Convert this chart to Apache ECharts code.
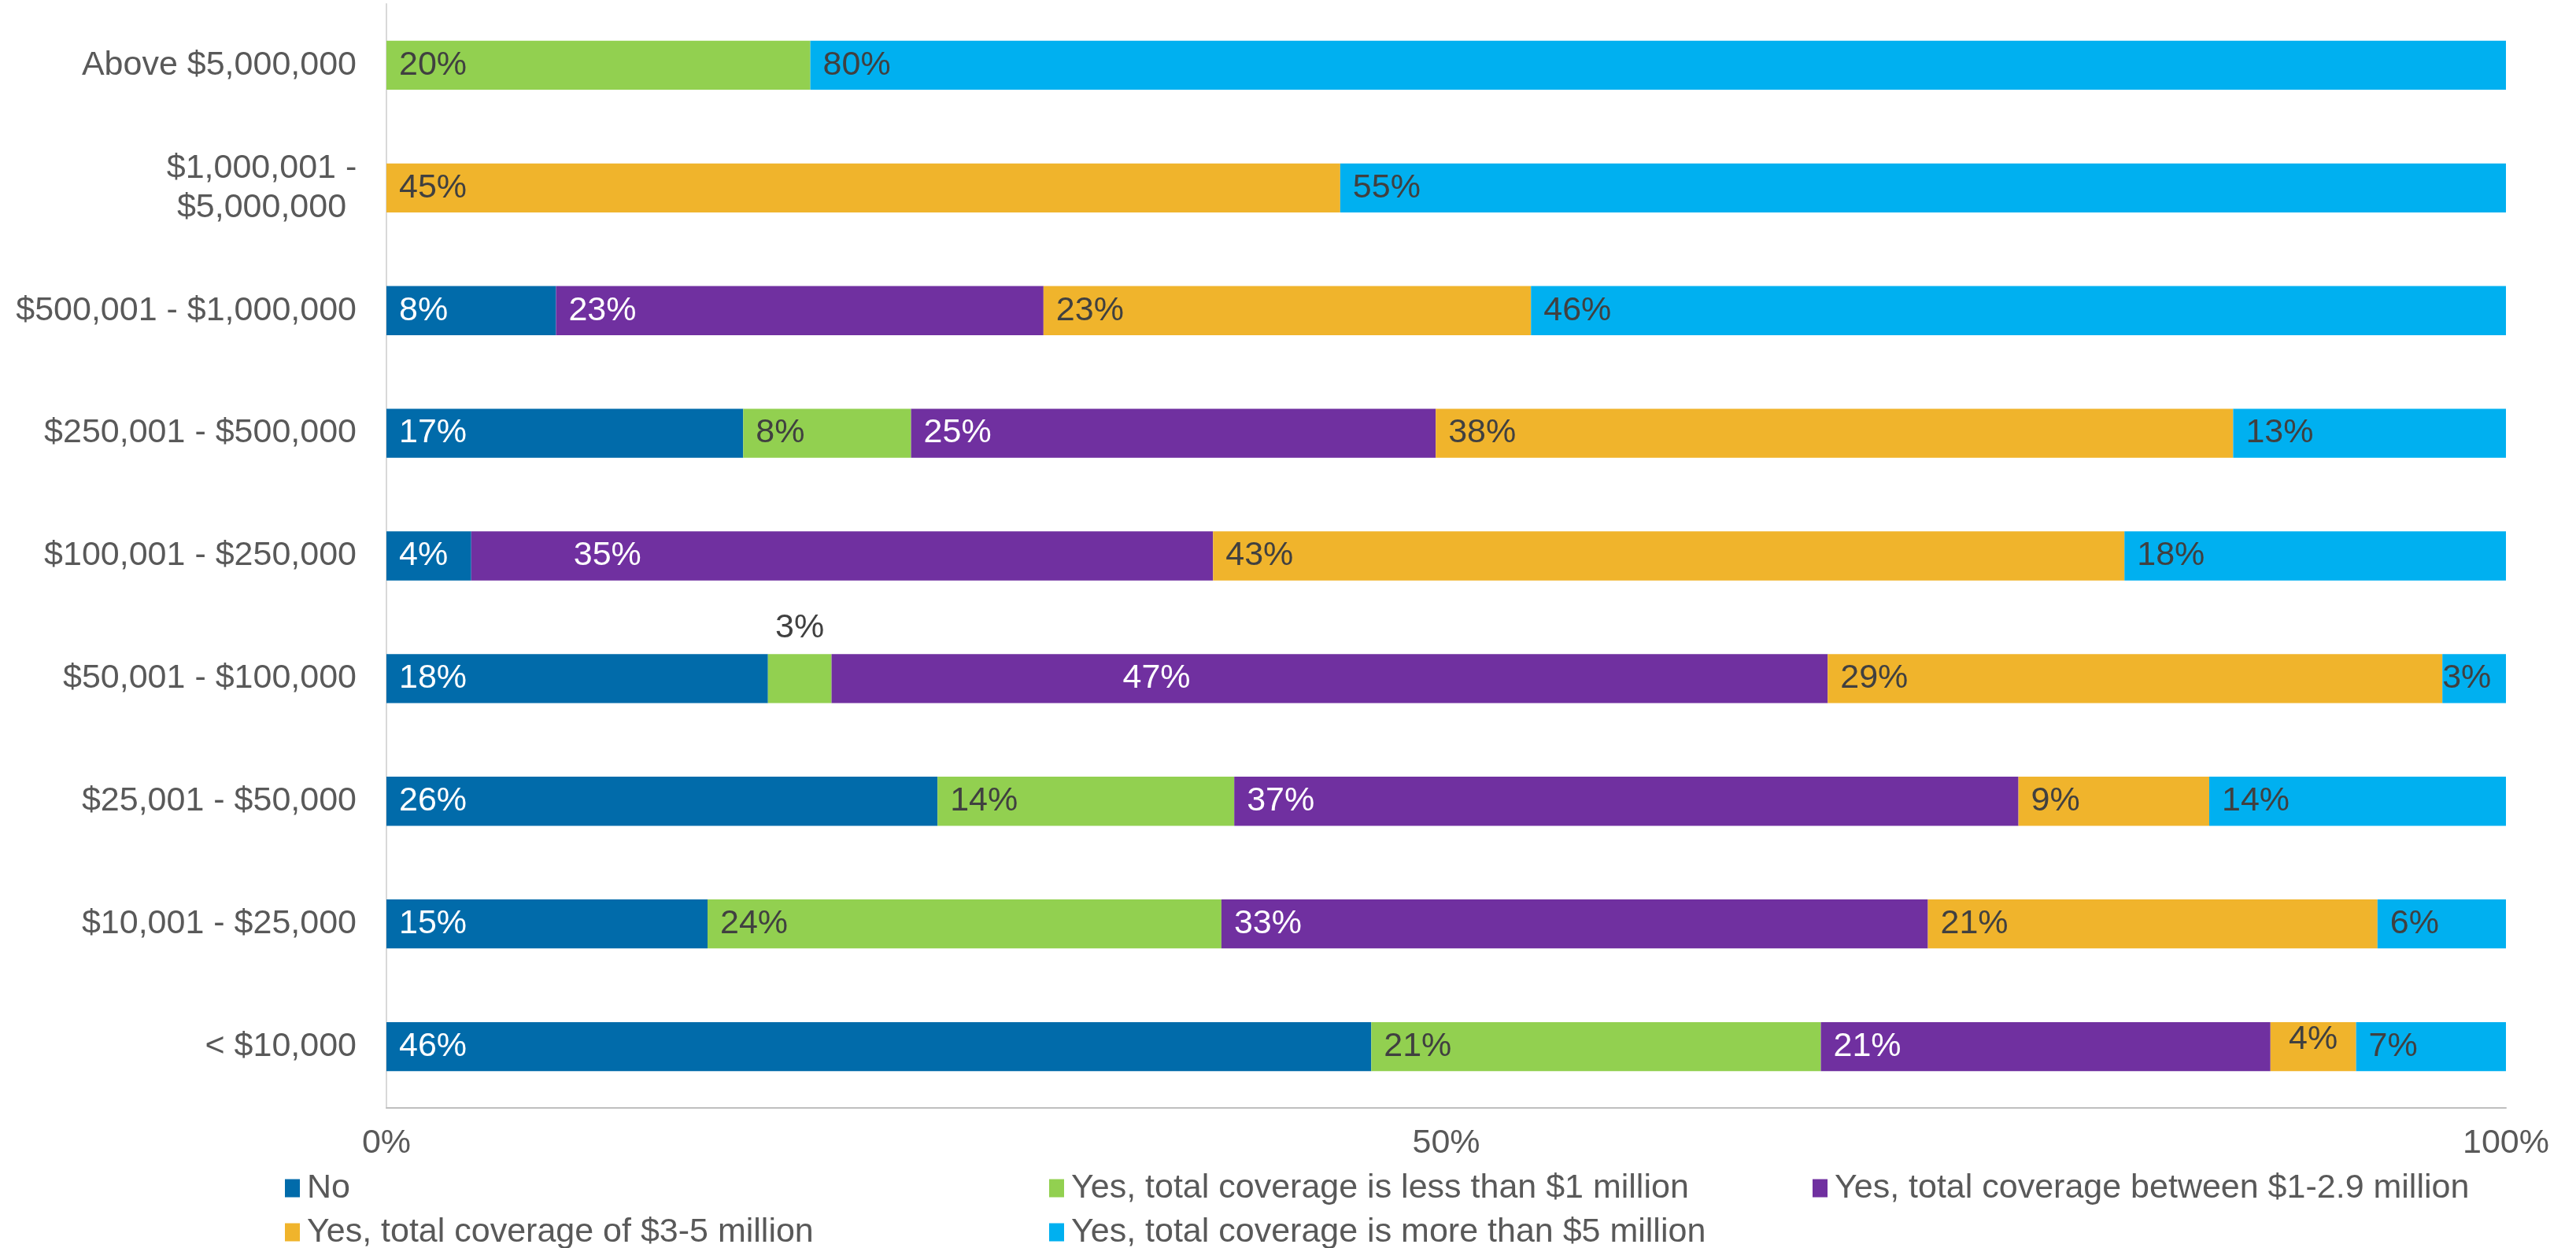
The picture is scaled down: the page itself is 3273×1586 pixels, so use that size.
<!DOCTYPE html>
<html>
<head>
<meta charset="utf-8">
<script src="https://cdn.jsdelivr.net/npm/echarts@6/dist/echarts.min.js"></script>
<style>
  html, body { margin: 0; padding: 0; background: #ffffff; }
  #chart { width: 3273px; height: 1586px; }
</style>
</head>
<body>
<div id="chart"></div>
<script>
// Revenue bands, listed top to bottom
const categories = [
  'Above $5,000,000',
  '$1,000,001 -\n$5,000,000',
  '$500,001 - $1,000,000',
  '$250,001 - $500,000',
  '$100,001 - $250,000',
  '$50,001 - $100,000',
  '$25,001 - $50,000',
  '$10,001 - $25,000',
  '< $10,000'
];

const seriesNames = [
  'No',
  'Yes, total coverage is less than $1 million',
  'Yes, total coverage between $1-2.9 million',
  'Yes, total coverage of $3-5 million',
  'Yes, total coverage is more than $5 million'
];

// Share of respondents (%) per band
const noCoverage  = [0, 0, 8, 17, 4, 18, 26, 15, 46];
const under1M     = [20, 0, 0, 8, 0, 3, 14, 24, 21];
const from1To29M  = [0, 0, 23, 25, 35, 47, 37, 33, 21];
const from3To5M   = [0, 45, 23, 38, 43, 29, 9, 21, 4];
const over5M      = [80, 55, 46, 13, 18, 3, 14, 6, 7];

const xTicks = [0, 50, 100];

const seriesValues = [noCoverage, under1M, from1To29M, from3To5M, over5M];
const colors = ['#016BAA', '#92D050', '#7030A0', '#F0B42C', '#00B0F0'];
const labelColors = ['#FFFFFF', '#404040', '#FFFFFF', '#404040', '#404040'];

// Individually placed labels: [series][category] -> label override
const labelOverrides = {
  '1-5': { position: 'top', distance: 12 },
  '2-4': { distance: 130 },
  '2-5': { distance: 370 },
  '3-8': { position: 'inside', offset: [0, -9] },
  '4-5': { distance: 0 }
};

// Each bar is scaled to a 100% total
const rowTotals = categories.map((_, i) =>
  seriesValues.reduce((s, arr) => s + arr[i], 0));

const FONT = '"Liberation Sans", Arial, sans-serif';
const FS = 43;

const series = seriesNames.map((name, si) => ({
  name,
  type: 'bar',
  stack: 'total',
  barWidth: '40%',
  itemStyle: { color: colors[si] },
  emphasis: { disabled: true },
  label: {
    show: true,
    position: 'insideLeft',
    distance: 16,
    fontSize: FS,
    fontFamily: FONT,
    color: labelColors[si],
    formatter: p => (p.data.raw ? p.data.raw + '%' : '')
  },
  data: seriesValues[si].map((v, ci) => {
    const item = { value: v * 100 / rowTotals[ci], raw: v };
    const ov = labelOverrides[si + '-' + ci];
    if (ov) item.label = ov;
    return item;
  })
}));

// Legend laid out in fixed columns
const legendSlots = [[357, 1480], [1328, 1480], [2298, 1480], [357, 1536], [1328, 1536]];
const legends = seriesNames.map((name, i) => ({
  data: [name],
  left: legendSlots[i][0],
  top: legendSlots[i][1],
  icon: 'rect',
  itemWidth: 19,
  itemHeight: 23,
  selectedMode: false,
  textStyle: {
    fontSize: FS,
    fontFamily: FONT,
    color: '#595959',
    lineHeight: 50,
    padding: [0, 0, 0, 4]
  }
}));

const chart = echarts.init(document.getElementById('chart'), null, { renderer: 'canvas' });
chart.setOption({
  animation: false,
  backgroundColor: '#FFFFFF',
  grid: { left: 491, right: 89, top: 5, bottom: 178, containLabel: false },
  legend: legends,
  xAxis: {
    type: 'value',
    min: xTicks[0],
    max: xTicks[xTicks.length - 1],
    interval: xTicks[1] - xTicks[0],
    axisLine: { show: true, lineStyle: { color: '#BFBFBF', width: 2 } },
    axisTick: { show: false },
    splitLine: { show: false },
    axisLabel: {
      formatter: '{value}%',
      fontSize: FS,
      fontFamily: FONT,
      color: '#595959',
      margin: 24
    }
  },
  yAxis: {
    type: 'category',
    inverse: true,
    data: categories,
    axisLine: { show: true, lineStyle: { color: '#D9D9D9', width: 2 } },
    axisTick: { show: false },
    axisLabel: {
      fontSize: FS,
      fontFamily: FONT,
      color: '#595959',
      margin: 38,
      lineHeight: 50,
      formatter: v => v.indexOf('\n') >= 0
        ? v.split('\n').map(s => '{c|' + s + '}').join('\n')
        : v,
      rich: {
        c: { width: 241, align: 'center', fontSize: FS, fontFamily: FONT, color: '#595959', lineHeight: 50 }
      }
    }
  },
  series
});
</script>
</body>
</html>
